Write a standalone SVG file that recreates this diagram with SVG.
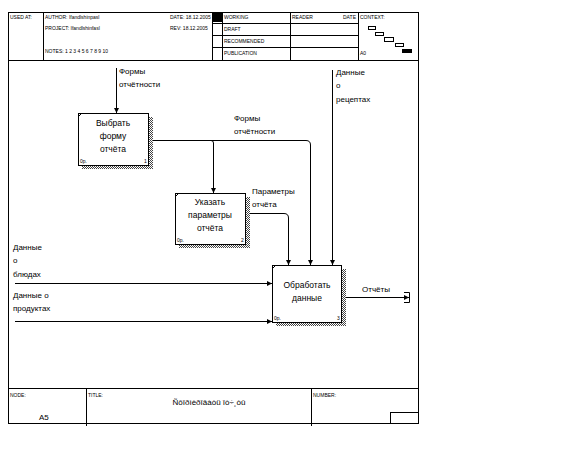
<svg xmlns="http://www.w3.org/2000/svg" width="579" height="460" viewBox="0 0 579 460">
<style>
.ln{stroke:#000;stroke-width:1;fill:none}
.t{font-family:"Liberation Sans",Arial,sans-serif;font-size:8px;fill:#000}
.h{font-family:"Liberation Sans",Arial,sans-serif;font-size:5px;fill:#000}
.bt{font-family:"Liberation Sans",Arial,sans-serif;font-size:8.5px;fill:#000;text-anchor:middle}
.s{font-family:"Liberation Sans",Arial,sans-serif;font-size:5px;fill:#000}
.box{fill:#fff;stroke:#000;stroke-width:1}
</style>
<defs>
<pattern id="hatch" width="2" height="2" patternUnits="userSpaceOnUse">
<rect width="2" height="2" fill="#fff"/>
<rect width="1" height="1" fill="#444"/>
<rect x="1" y="1" width="1" height="1" fill="#444"/>
</pattern>
<marker id="ah" markerWidth="6" markerHeight="6" refX="5" refY="3" orient="auto" markerUnits="userSpaceOnUse">
<path d="M0,0.5 L5,3 L0,5.5 Z" fill="#000"/>
</marker>
</defs>
<rect width="579" height="460" fill="#fff"/>
<g id="frame">
<rect x="8.5" y="12.5" width="410" height="411" class="ln"/>
<line x1="8" y1="60.5" x2="418" y2="60.5" class="ln"/>
<line x1="43.5" y1="12" x2="43.5" y2="60" class="ln"/>
<line x1="212.5" y1="12" x2="212.5" y2="60" class="ln"/>
<rect x="212" y="12" width="10" height="10" fill="#000"/>
<line x1="222.5" y1="12" x2="222.5" y2="60" class="ln"/>
<line x1="212" y1="23.5" x2="358" y2="23.5" class="ln"/>
<line x1="212" y1="35.5" x2="358" y2="35.5" class="ln"/>
<line x1="212" y1="47.5" x2="358" y2="47.5" class="ln"/>
<line x1="290.5" y1="12" x2="290.5" y2="60" class="ln"/>
<line x1="358.5" y1="12" x2="358.5" y2="60" class="ln"/>
<text x="10" y="19" class="h">USED AT:</text>
<text x="45" y="19" class="h">AUTHOR: Ifandlshinpasl</text>
<text x="45" y="30" class="h">PROJECT: Ifandlshinfasl</text>
<text x="45" y="53" class="h">NOTES: 1 2 3 4 5 6 7 8 9 10</text>
<text x="170" y="19" class="h">DATE: 18.12.2005</text>
<text x="170" y="30" class="h">REV: 18.12.2005</text>
<text x="224" y="19" class="h">WORKING</text>
<text x="224" y="31" class="h">DRAFT</text>
<text x="224" y="43" class="h">RECOMMENDED</text>
<text x="224" y="55" class="h">PUBLICATION</text>
<text x="292" y="19" class="h">READER</text>
<text x="343" y="19" class="h">DATE</text>
<text x="360" y="19" class="h">CONTEXT:</text>
<text x="360" y="55" class="h">A0</text>
<rect x="368.5" y="26.5" width="7" height="3" class="ln"/>
<rect x="375.5" y="32.5" width="8" height="3" class="ln"/>
<rect x="384.5" y="37.5" width="9" height="4" class="ln"/>
<rect x="395.5" y="43.5" width="8" height="3" class="ln"/>
<rect x="402" y="49" width="10" height="4" fill="#000"/>
<line x1="8" y1="388.5" x2="418" y2="388.5" class="ln"/>
<line x1="86.5" y1="388" x2="86.5" y2="426" class="ln"/>
<line x1="311.5" y1="388" x2="311.5" y2="426" class="ln"/>
<rect x="390.5" y="412.5" width="28" height="11" class="ln"/>
<text x="10" y="397" class="h">NODE:</text>
<text x="39" y="420" class="t" font-size="12">A5</text>
<text x="88" y="397" class="h">TITLE:</text>
<text x="209" y="405" class="t" font-size="12" text-anchor="middle">Ñôîðìèðîâàòü îò÷¸òû</text>
<text x="313" y="397" class="h">NUMBER:</text>
</g>
<g id="connectors">
<line x1="116.5" y1="68" x2="116.5" y2="113" class="ln" marker-end="url(#ah)"/>
<path d="M148,140.5 H306 Q310.5,140.5 310.5,145 V265" class="ln" marker-end="url(#ah)"/>
<path d="M211,140.5 Q213.5,140.5 213.5,143 V193" class="ln" marker-end="url(#ah)"/>
<path d="M245,213.5 H284 Q288.5,213.5 288.5,218 V265" class="ln" marker-end="url(#ah)"/>
<line x1="332.5" y1="70" x2="332.5" y2="265" class="ln" marker-end="url(#ah)"/>
<line x1="15" y1="283.5" x2="272" y2="283.5" class="ln" marker-end="url(#ah)"/>
<line x1="15" y1="321.5" x2="272" y2="321.5" class="ln" marker-end="url(#ah)"/>
<line x1="341" y1="297.5" x2="409" y2="297.5" class="ln" marker-end="url(#ah)"/>
<path d="M404,292.5 H409.5 V302.5 H404" class="ln"/>
<text x="119" y="74" class="t">Формы</text>
<text x="119" y="87" class="t">отчётности</text>
<text x="234" y="121" class="t">Формы</text>
<text x="234" y="134" class="t">отчётности</text>
<text x="252" y="194" class="t">Параметры</text>
<text x="252" y="207" class="t">отчёта</text>
<text x="336" y="75" class="t">Данные</text>
<text x="336" y="88" class="t">о</text>
<text x="336" y="102" class="t">рецептах</text>
<text x="13" y="250" class="t">Данные</text>
<text x="13" y="263" class="t">о</text>
<text x="13" y="277" class="t">блюдах</text>
<text x="13" y="298" class="t">Данные о</text>
<text x="13" y="311" class="t">продуктах</text>
<text x="362" y="292" class="t">Отчёты</text>
</g>
<g id="node1">
<rect x="149" y="117" width="4" height="52" fill="url(#hatch)"/>
<rect x="82" y="166" width="71" height="3" fill="url(#hatch)"/>
<rect x="78.5" y="113.5" width="70" height="52" class="box"/>
<line x1="79" y1="116" x2="81" y2="114" class="ln"/>
<text x="113" y="126" class="bt">Выбрать</text>
<text x="113" y="139" class="bt">форму</text>
<text x="113" y="152" class="bt">отчёта</text>
<text x="80" y="163" class="s">0р.</text>
<text x="144" y="163" class="s">1</text>
</g>
<g id="node2">
<rect x="246" y="197" width="4" height="51" fill="url(#hatch)"/>
<rect x="179" y="245" width="71" height="3" fill="url(#hatch)"/>
<rect x="175.5" y="193.5" width="70" height="51" class="box"/>
<line x1="176" y1="196" x2="178" y2="194" class="ln"/>
<text x="210" y="205" class="bt">Указать</text>
<text x="210" y="218" class="bt">параметры</text>
<text x="210" y="231" class="bt">отчёта</text>
<text x="177" y="242" class="s">0р.</text>
<text x="241" y="242" class="s">2</text>
</g>
<g id="node3">
<rect x="342" y="269" width="4" height="57" fill="url(#hatch)"/>
<rect x="276" y="323" width="70" height="3" fill="url(#hatch)"/>
<rect x="272.5" y="265.5" width="69" height="57" class="box"/>
<line x1="273" y1="268" x2="275" y2="266" class="ln"/>
<text x="307" y="288" class="bt">Обработать</text>
<text x="307" y="301" class="bt">данные</text>
<text x="274" y="320" class="s">0р.</text>
<text x="337" y="320" class="s">3</text>
</g>
</svg>
